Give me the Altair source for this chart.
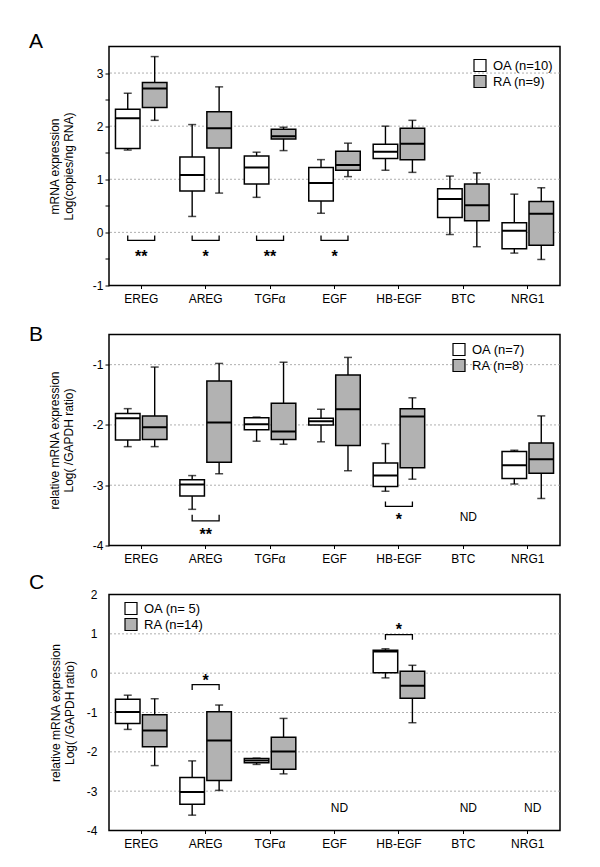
import altair as alt
import pandas as pd

FONT = "Liberation Sans"
genes = ["EREG", "AREG", "TGFα", "EGF", "HB-EGF", "BTC", "NRG1"]
groups = ["OA", "RA"]
GRAY = "#b2b2b2"

# ---------------- Panel A : Log(copies/ng RNA) ----------------
A_legend = ["OA (n=10)", "RA (n=9)"]
A_OA_lo  = [1.55, 0.30, 0.66, 0.36, 1.17, -0.04, -0.39]
A_OA_q1  = [1.58, 0.78, 0.91, 0.59, 1.39, 0.28, -0.31]
A_OA_med = [2.15, 1.08, 1.22, 0.93, 1.52, 0.63, 0.03]
A_OA_q3  = [2.32, 1.42, 1.44, 1.22, 1.66, 0.82, 0.18]
A_OA_hi  = [2.62, 2.03, 1.51, 1.37, 2.00, 1.06, 0.72]
A_RA_lo  = [2.11, 0.74, 1.54, 1.05, 1.13, -0.27, -0.51]
A_RA_q1  = [2.35, 1.59, 1.76, 1.17, 1.37, 0.22, -0.24]
A_RA_med = [2.71, 1.96, 1.81, 1.27, 1.67, 0.51, 0.35]
A_RA_q3  = [2.82, 2.27, 1.94, 1.53, 1.96, 0.91, 0.58]
A_RA_hi  = [3.31, 2.74, 1.98, 1.68, 2.11, 1.12, 0.84]
A_sig_genes = ["EREG", "AREG", "TGFα", "EGF"]
A_sig_text  = ["**", "*", "**", "*"]
A_sig_arm   = [-0.06, -0.06, -0.06, -0.06]
A_sig_bar   = [-0.15, -0.15, -0.15, -0.15]
A_sig_star  = [-0.40, -0.40, -0.40, -0.40]
A_nd_genes, A_nd_y = [], []
A_ticks = [-1, -0.5, 0, 0.5, 1, 1.5, 2, 2.5, 3]
A_grid = [0, 1, 2, 3]

# ---------------- Panel B : Log(/GAPDH ratio), synovium ----------------
B_legend = ["OA (n=7)", "RA (n=8)"]
B_OA_lo  = [-2.36, -3.40, -2.27, -2.28, -3.10, None, -2.98]
B_OA_q1  = [-2.25, -3.18, -2.08, -2.00, -3.02, None, -2.89]
B_OA_med = [-1.89, -2.99, -1.99, -1.94, -2.84, None, -2.67]
B_OA_q3  = [-1.81, -2.91, -1.88, -1.89, -2.63, None, -2.44]
B_OA_hi  = [-1.73, -2.84, -1.87, -1.74, -2.31, None, -2.42]
B_RA_lo  = [-2.36, -2.81, -2.32, -2.76, -2.90, None, -3.22]
B_RA_q1  = [-2.24, -2.62, -2.24, -2.34, -2.71, None, -2.80]
B_RA_med = [-2.04, -1.96, -2.11, -1.74, -1.86, None, -2.57]
B_RA_q3  = [-1.85, -1.27, -1.64, -1.17, -1.73, None, -2.30]
B_RA_hi  = [-1.04, -0.98, -0.96, -0.88, -1.55, None, -1.85]
B_sig_genes = ["AREG", "HB-EGF"]
B_sig_text  = ["**", "*"]
B_sig_arm   = [-3.49, -3.27]
B_sig_bar   = [-3.59, -3.35]
B_sig_star  = [-3.77, -3.53]
B_nd_genes, B_nd_y = ["BTC"], [-3.52]
B_ticks = [-4, -3, -2, -1]
B_grid = [-3, -2, -1]

# ---------------- Panel C ----------------
C_legend = ["OA (n= 5)", "RA (n=14)"]
C_OA_lo  = [-1.43, -3.61, -2.32, None, -0.12, None, None]
C_OA_q1  = [-1.28, -3.33, -2.28, None, 0.01, None, None]
C_OA_med = [-0.99, -3.02, -2.22, None, 0.55, None, None]
C_OA_q3  = [-0.66, -2.65, -2.17, None, 0.58, None, None]
C_OA_hi  = [-0.56, -2.23, -2.16, None, 0.62, None, None]
C_RA_lo  = [-2.35, -2.98, -2.56, None, -1.26, None, None]
C_RA_q1  = [-1.87, -2.73, -2.44, None, -0.64, None, None]
C_RA_med = [-1.46, -1.71, -1.99, None, -0.32, None, None]
C_RA_q3  = [-1.06, -0.98, -1.63, None, 0.05, None, None]
C_RA_hi  = [-0.65, -0.81, -1.15, None, 0.20, None, None]
C_sig_genes = ["AREG", "HB-EGF"]
C_sig_text  = ["*", "*"]
C_sig_arm   = [-0.43, 0.85]
C_sig_bar   = [-0.29, 0.98]
C_sig_star  = [-0.12, 1.18]
C_nd_genes, C_nd_y = ["EGF", "BTC", "NRG1"], [-3.44, -3.44, -3.44]
C_ticks = [-4, -3, -2, -1, 0, 1, 2]
C_grid = [-3, -2, -1, 0, 1]


def box_df(legend, stats):
    rows = []
    for gi, g in enumerate(groups):
        lo, q1, med, q3, hi = stats[g]
        for i, gene in enumerate(genes):
            if med[i] is None:
                continue
            rows.append(dict(gene=gene, grp=g, legend=legend[gi], lo=lo[i],
                             q1=q1[i], med=med[i], q3=q3[i], hi=hi[i]))
    return pd.DataFrame(rows)


def bracket_df(sg, arm, bar):
    rows = []
    for i, gene in enumerate(sg):
        rows += [dict(gene=gene, grp="OA", v=arm[i], ord=0),
                 dict(gene=gene, grp="OA", v=bar[i], ord=1),
                 dict(gene=gene, grp="RA", v=bar[i], ord=2),
                 dict(gene=gene, grp="RA", v=arm[i], ord=3)]
    return pd.DataFrame(rows)


def panel(letter, letter_dy, df, domain, ticks, half_ticks, show_ticks, label_pad,
          title_pad, y_title, grid_vals, sig, nd, legend_labels, leg_x, leg_y,
          row_pad, height):
    x_enc = alt.X("gene:N", sort=genes,
                  scale=alt.Scale(domain=genes, paddingInner=0, paddingOuter=0),
                  axis=alt.Axis(title=None, labelAngle=0, tickSize=3, labelPadding=5,
                                labelFontSize=12, domain=False, ticks=True,
                                tickColor="black", labelColor="black", labelFont=FONT))
    xo_enc = alt.XOffset("grp:N", scale=alt.Scale(domain=groups, paddingInner=0.09,
                                                   paddingOuter=0.24))
    if half_ticks:
        lexpr = "datum.value % 1 === 0 ? '' + datum.value : ''"
    else:
        lexpr = "'' + datum.value"
    y_axis = alt.Axis(title=y_title, values=ticks, labelExpr=lexpr, ticks=show_ticks,
                      tickSize=4, tickColor="black", labelPadding=label_pad,
                      titlePadding=title_pad, domain=False, grid=False,
                      labelFontSize=12, labelColor="black", labelFont=FONT,
                      titleFontSize=12, titleFontWeight="normal", titleColor="black",
                      titleFont=FONT, titleLineHeight=14)
    yscale = alt.Scale(domain=domain, nice=False, zero=False)

    def Y(f):
        return alt.Y(f"{f}:Q", scale=yscale, axis=y_axis)

    grid = alt.Chart(pd.DataFrame({"v": grid_vals})).mark_rule(
        color="#9a9a9a", strokeDash=[2, 2], strokeWidth=0.8).encode(y=Y("v"))
    base = alt.Chart(df)
    whisk = base.mark_rule(color="black", strokeWidth=1.4).encode(
        x=x_enc, xOffset=xo_enc, y=Y("lo"), y2="hi:Q")
    caps = base.transform_fold(["lo", "hi"], as_=["k", "v"]).mark_tick(
        color="black", size=8, thickness=1.5).encode(x=x_enc, xOffset=xo_enc, y=Y("v"))
    box = base.mark_bar(stroke="black", strokeWidth=1.5).encode(
        x=x_enc, xOffset=xo_enc, y=Y("q1"), y2="q3:Q",
        fill=alt.Fill("legend:N",
                      scale=alt.Scale(domain=legend_labels, range=["white", GRAY]),
                      legend=alt.Legend(title=None, orient="none", legendX=leg_x,
                                        legendY=leg_y, symbolType="square",
                                        symbolSize=144, symbolStrokeColor="black",
                                        symbolStrokeWidth=1.2, labelFontSize=13,
                                        labelFont=FONT, labelColor="black",
                                        labelOffset=6, rowPadding=row_pad, padding=0)))
    med = base.mark_bar(fillOpacity=0, stroke="black", strokeWidth=2).encode(
        x=x_enc, xOffset=xo_enc, y=Y("med"), y2="med:Q")
    layers = [grid, whisk, caps, box, med]
    sg, stext, sarm, sbar, sstar = sig
    if sg:
        br = alt.Chart(bracket_df(sg, sarm, sbar)).mark_line(
            color="black", strokeWidth=1.3).encode(
            x=x_enc, xOffset=xo_enc, y=Y("v"), detail="gene:N", order="ord:Q")
        st = alt.Chart(pd.DataFrame({"gene": sg, "t": stext, "v": sstar})).mark_text(
            fontSize=16, fontWeight="bold", font=FONT, color="black",
            baseline="middle", dy=3).encode(x=x_enc, y=Y("v"), text="t:N")
        layers += [br, st]
    ndg, ndy = nd
    if ndg:
        ndl = alt.Chart(pd.DataFrame({"gene": ndg, "v": ndy})).mark_text(
            fontSize=12, font=FONT, color="black", baseline="middle", dx=5).encode(
            x=x_enc, y=Y("v"), text=alt.value("ND"))
        layers.append(ndl)
    return alt.layer(*layers).properties(
        width=451, height=height,
        title=alt.TitleParams(text=letter, anchor="start", frame="group", dx=-80,
                              dy=letter_dy, offset=0, fontSize=21, fontWeight="normal",
                              font=FONT, baseline="alphabetic", color="black"))


pA = panel("A", 22.5,
           box_df(A_legend, {"OA": (A_OA_lo, A_OA_q1, A_OA_med, A_OA_q3, A_OA_hi),
                             "RA": (A_RA_lo, A_RA_q1, A_RA_med, A_RA_q3, A_RA_hi)}),
           [-1, 3.5], A_ticks, True, True, 2, 17,
           ["mRNA expression", "Log(copies/ng RNA)"], A_grid,
           (A_sig_genes, A_sig_text, A_sig_arm, A_sig_bar, A_sig_star),
           (A_nd_genes, A_nd_y), A_legend, 364, 12, -3, 239)
pB = panel("B", 27.5,
           box_df(B_legend, {"OA": (B_OA_lo, B_OA_q1, B_OA_med, B_OA_q3, B_OA_hi),
                             "RA": (B_RA_lo, B_RA_q1, B_RA_med, B_RA_q3, B_RA_hi)}),
           [-4, -0.5], B_ticks, False, True, 2, 17,
           ["relative mRNA expression", "Log( /GAPDH ratio)"], B_grid,
           (B_sig_genes, B_sig_text, B_sig_arm, B_sig_bar, B_sig_star),
           (B_nd_genes, B_nd_y), B_legend, 343, 8, -4, 211)
pC = panel("C", 21,
           box_df(C_legend, {"OA": (C_OA_lo, C_OA_q1, C_OA_med, C_OA_q3, C_OA_hi),
                             "RA": (C_RA_lo, C_RA_q1, C_RA_med, C_RA_q3, C_RA_hi)}),
           [-4, 2], C_ticks, False, False, 12, 10,
           ["relative mRNA expression", "Log( /GAPDH ratio)"], C_grid,
           (C_sig_genes, C_sig_text, C_sig_arm, C_sig_bar, C_sig_star),
           (C_nd_genes, C_nd_y), C_legend, 15, 7, -3, 236)

chart = alt.vconcat(pA, pB, pC, spacing=49, bounds="flush").resolve_scale(
    x="independent", y="independent", fill="independent").resolve_legend(
    fill="independent").properties(
    padding={"left": 20, "top": 21.5, "right": 5, "bottom": 5}).configure(
    font=FONT).configure_view(stroke="black", strokeWidth=1.5)

chart.save("out.html", embed_options={"renderer": "svg", "actions": False})
